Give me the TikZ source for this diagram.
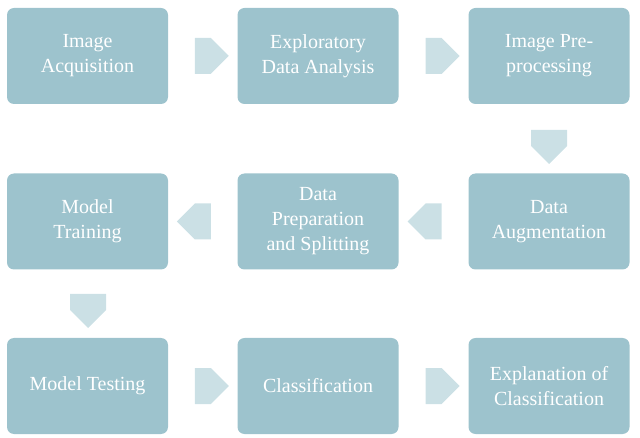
\documentclass[tikz,border=0pt]{standalone}
\usepackage{fontspec}
\setmainfont{Liberation Serif}
\usetikzlibrary{shapes.arrows,calc}
\definecolor{boxc}{HTML}{9DC3CD}
\definecolor{arrc}{HTML}{CBE0E5}
\begin{document}
\begin{tikzpicture}[x=1pt,y=-1pt,
  box/.style={fill=boxc,rounded corners=7pt,minimum width=161pt,minimum height=96pt,text=white,align=center,font=\fontsize{20}{25}\selectfont,inner sep=2pt},
  arr/.style={single arrow,fill=arrc,minimum height=34pt,minimum width=36pt,single arrow head extend=0pt,inner sep=5pt}]
\useasboundingbox (0,0) rectangle (640,438);
\node[box] (a) at (87.5,56) {Image\\Acquisition};
\node[box] (b) at (318,56) {Exploratory\\Data Analysis};
\node[box] (c) at (549,56) {Image Pre-\\processing};
\node[box] (d) at (549,221.5) {Data\\Augmentation};
\node[box] (e) at (318,221.5) {Data\\Preparation\\and Splitting};
\node[box] (f) at (87.5,221.5) {Model\\Training};
\node[box] (g) at (87.5,386) {Model Testing};
\node[box] (h) at (318,386) {Classification};
\node[box] (i) at (549,386) {Explanation of\\Classification};
\node[arr] (ab) at ($(a)!0.5!(b)$) {};
\node[arr] (bc) at ($(b)!0.5!(c)$) {};
\node[arr,shape border rotate=270] (cd) at (549,138) {};
\node[arr,shape border rotate=180] (de) at ($(d)!0.5!(e)$) {};
\node[arr,shape border rotate=180] (ef) at ($(e)!0.5!(f)$) {};
\node[arr,shape border rotate=270] (fg) at (88,302) {};
\node[arr] (gh) at ($(g)!0.5!(h)$) {};
\node[arr] (hi) at ($(h)!0.5!(i)$) {};
\end{tikzpicture}
\end{document}
